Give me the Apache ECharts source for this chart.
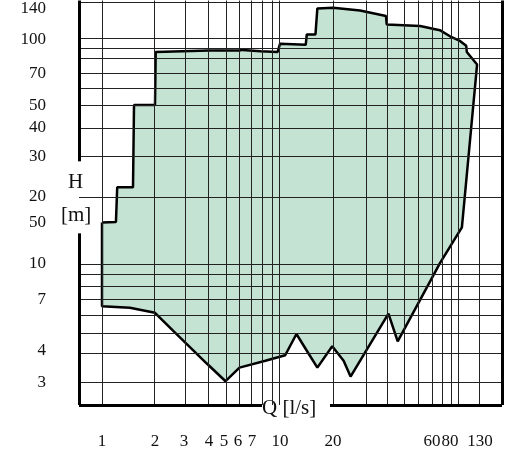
<!DOCTYPE html>
<html>
<head>
<meta charset="UTF-8">
<script src="https://cdn.jsdelivr.net/npm/echarts@6/dist/echarts.min.js"></script>
<style>body{margin:0;background:#fff}#main{width:521px;height:450px}</style>
</head>
<body>
<div id="main"></div>
<script>
// tick labels of the printed (non-uniform) axes
var xTickQ = [1, 2, 3, 4, 5, 6, 7, 10, 20, 60, 80, 130];
var xTickLabels = ['1', '2', '3', '4', '5', '6', '7', '10', '20', '60', '80', '130'];
var yTickH = [3, 4, 7, 10, 15, 20, 30, 40, 50, 70, 100, 140];
var yTickLabels = ['3', '4', '7', '10', '50', '20', '30', '40', '50', '70', '100', '140'];

// operating envelope (Q in l/s, H in m)
var envQ = [1, 1.2, 1.22, 1.5, 1.52, 2, 2.02, 4, 4.1, 6.1, 6.3, 7.8, 9.7, 10, 14, 14.2, 15.9, 16.3, 20, 27, 36, 36.3, 52.6, 68, 80, 94, 104, 105, 124,
            97, 68.3, 41, 37, 24.3, 22.5, 19.8, 16.3, 14.2, 12.4, 10.7, 8.3, 6.1, 5.1, 3.9, 2.6, 2, 1.44, 1];
var envH = [15, 15.1, 22, 22, 50, 50, 88, 89.5, 90, 89.5, 90, 88.7, 88, 96, 95, 106, 106, 140, 141, 137, 129, 118, 116, 111, 104, 99, 94, 88, 77,
            14.3, 10.1, 4.43, 6.0, 3.16, 3.65, 4.2, 3.43, 4.0, 4.8, 3.84, 3.65, 3.43, 3.03, 3.56, 4.94, 6.05, 6.4, 6.5];

// layout: plot box in pixels, tick pixel positions on the printed chart
var L = 79, T = 0, W = 423, H = 410;
var xTickPx = [102, 155, 184, 209, 224, 238, 252, 280, 333, 432, 450, 480];
var yTickPx = [387, 355, 303, 267, 225, 199, 158, 129, 106, 74, 40, 8];
var xGridPx = [102, 154, 185, 208, 226, 239, 251, 262, 272, 279, 333, 366, 387, 404, 418, 432, 442, 451, 458, 479];
var yGridPx = [2, 38, 48, 59, 74, 89, 106, 129, 158, 199, 267, 277, 290, 303, 319, 337, 358, 387];

function interpLog(v, vals, pos) {
    var i = 0;
    while (i < vals.length - 2 && v > vals[i + 1]) i++;
    var f = Math.log(v / vals[i]) / Math.log(vals[i + 1] / vals[i]);
    return pos[i] + f * (pos[i + 1] - pos[i]);
}
var xPos = xTickPx.map(function (p) { return p - L; });
var yPos = yTickPx.map(function (p) { return T + H - p; });
function qx(q) { return interpLog(q, xTickQ, xPos); }
function hy(h) { return interpLog(h, yTickH, yPos); }

var poly = envQ.map(function (q, i) { return [qx(q), hy(envH[i])]; });

var grid = [];
xGridPx.forEach(function (p) { grid.push([{coord: [p - L, 0]}, {coord: [p - L, H]}]); });
yGridPx.forEach(function (p) { grid.push([{coord: [0, T + H - p]}, {coord: [W, T + H - p]}]); });

var frame = [
    [{coord: [0, 0]}, {coord: [183, 0]}],
    [{coord: [251, 0]}, {coord: [W, 0]}],
    [{coord: [0, 0]}, {coord: [0, H - 236]}],
    [{coord: [0, H - 163]}, {coord: [0, H]}],
    [{coord: [W, 0]}, {coord: [W, H]}]
];

var serif = 'Liberation Serif';
var chart = echarts.init(document.getElementById('main'));
chart.setOption({
    animation: false,
    grid: {left: L, top: T, width: W, height: H},
    xAxis: {
        type: 'value', min: 0, max: W,
        axisLine: {show: false}, axisTick: {show: false}, splitLine: {show: false},
        axisLabel: {
            customValues: xPos, margin: 28, fontFamily: serif, fontSize: 17, color: '#111',
            formatter: function (v) { var i = xPos.indexOf(v); return i < 0 ? '' : xTickLabels[i]; }
        }
    },
    yAxis: {
        type: 'value', min: 0, max: H,
        axisLine: {show: false}, axisTick: {show: false}, splitLine: {show: false},
        axisLabel: {
            customValues: yPos, margin: 33, fontFamily: serif, fontSize: 17, color: '#111',
            formatter: function (v) { var i = yPos.indexOf(v); return i < 0 ? '' : yTickLabels[i]; }
        }
    },
    series: [{
        type: 'custom',
        data: [0],
        renderItem: function (params, api) {
            return {
                type: 'polygon',
                shape: {points: poly.map(function (p) { return api.coord(p); })},
                style: {fill: '#c4e3d2', stroke: null}
            };
        },
        z: 1
    }, {
        type: 'line', data: [], silent: true, z: 2,
        markLine: {symbol: 'none', silent: true, label: {show: false},
            lineStyle: {color: '#222', width: 1, type: 'solid'}, data: grid}
    }, {
        type: 'line', data: poly.concat([poly[0]]), showSymbol: false, silent: true, z: 3,
        lineStyle: {color: '#000', width: 2.5},
        markLine: {symbol: 'none', silent: true, label: {show: false},
            lineStyle: {color: '#000', width: 3, type: 'solid'}, data: frame}
    }],
    graphic: [
        {type: 'text', left: 68, top: 172, style: {text: 'H', font: '21px "Liberation Serif"', fill: '#111'}},
        {type: 'text', left: 61, top: 205, style: {text: '[m]', font: '21px "Liberation Serif"', fill: '#111'}},
        {type: 'text', left: 262, top: 398, style: {text: 'Q [l/s]', font: '21px "Liberation Serif"', fill: '#111'}}
    ]
});
</script>
</body>
</html>
